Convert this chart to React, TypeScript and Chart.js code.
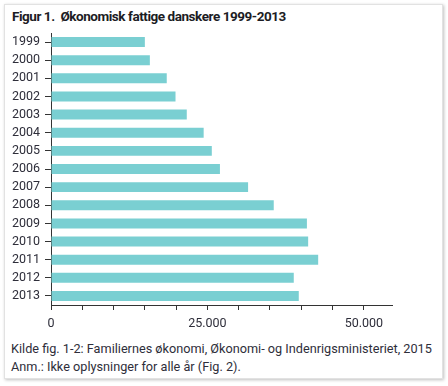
import React, { useEffect, useRef } from "react";
import { Chart, registerables } from "chart.js";

Chart.register(...registerables);

const years = ["1999","2000","2001","2002","2003","2004","2005","2006","2007","2008","2009","2010","2011","2012","2013"];
const poorCount = [15000,15800,18500,19900,21700,24400,25700,27000,31500,35600,40900,41100,42700,38800,39600];
const labeledTicks = [0, 25000, 50000];

const FONT = "Roboto, 'Noto Sans', sans-serif";
const TEXT = "#2e2e3a";

function fmt(v: number) {
  return v.toString().replace(/\B(?=(\d{3})+(?!\d))/g, ".");
}

export default function App() {
  const ref = useRef<HTMLCanvasElement | null>(null);
  useEffect(() => {
    if (!ref.current) return;
    const chart = new Chart(ref.current, {
      type: "bar",
      data: {
        labels: years,
        datasets: [
          {
            data: poorCount,
            backgroundColor: "#7acfd2",
            borderWidth: 0,
            categoryPercentage: 1,
            barPercentage: 0.55,
          },
        ],
      },
      options: {
        indexAxis: "y",
        animation: false,
        responsive: false,
        maintainAspectRatio: false,
        layout: { padding: { top: 5, right: 56, left: 0, bottom: 0 } },
        plugins: { legend: { display: false }, tooltip: { enabled: false } },
        scales: {
          x: {
            min: 0,
            max: 54500,
            afterFit: (s: any) => { s.height = 30; },
            afterBuildTicks: (s: any) => {
              const t = [];
              for (let v = 0; v <= 50000; v += 5000) t.push({ value: v });
              s.ticks = t;
            },
            ticks: {
              autoSkip: false,
              maxRotation: 0,
              padding: 6,
              color: TEXT,
              font: { family: FONT, size: 12.5 },
              callback: (v: any) => (labeledTicks.includes(Number(v)) ? fmt(Number(v)) : ""),
            },
            grid: { drawOnChartArea: false, drawTicks: true, tickLength: 5, color: "#333" },
            border: { display: true, color: "#333", width: 1 },
          },
          y: {
            afterFit: (s: any) => { s.width = 51; s.paddingTop = 0; s.paddingBottom = 0; },
            ticks: {
              autoSkip: false,
              padding: 5,
              color: TEXT,
              font: { family: FONT, size: 12.5 },
            },
            grid: { drawOnChartArea: false, drawTicks: true, tickLength: 6, color: "#333", offset: false },
            border: { display: true, color: "#333", width: 1 },
          },
        },
      },
    });
    return () => chart.destroy();
  }, []);

  return (
    <div style={{ position: "absolute", left: 0, top: 0, width: 448, height: 386, background: "#fff", fontFamily: FONT }}>
      <div
        style={{
          position: "absolute",
          left: 4,
          top: 4,
          width: 437,
          height: 373,
          border: "1px solid #e2e2e2",
          boxShadow: "1px 1px 3px rgba(0,0,0,0.25)",
          background: "#fff",
        }}
      />
      <div
        style={{
          position: "absolute",
          left: 12,
          top: 8,
          fontSize: 13.5,
          fontWeight: 700,
          letterSpacing: "-0.45px",
          color: "#1c1c24",
          lineHeight: "16px",
          whiteSpace: "pre",
        }}
      >
        {"Figur 1.  Økonomisk fattige danskere 1999-2013"}
      </div>
      <canvas
        ref={ref}
        width={448}
        height={307}
        style={{ position: "absolute", left: 0, top: 28, width: 448, height: 307 }}
      />
      <div
        style={{
          position: "absolute",
          left: 11,
          top: 340,
          fontSize: 12.7,
          lineHeight: "18px",
          color: TEXT,
          whiteSpace: "pre",
        }}
      >
        <div>Kilde fig. 1-2: Familiernes økonomi, Økonomi- og Indenrigsministeriet, 2015</div>
        <div>Anm.: Ikke oplysninger for alle år (Fig. 2).</div>
      </div>
    </div>
  );
}
